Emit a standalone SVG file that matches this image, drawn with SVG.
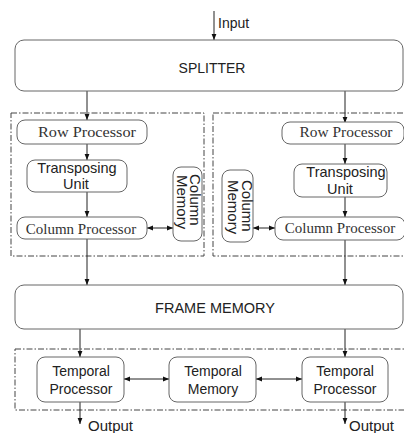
<svg xmlns="http://www.w3.org/2000/svg" width="404" height="433" viewBox="0 0 404 433">
<style>
.box{fill:#fff;stroke:#666;stroke-width:1}
.dash{fill:none;stroke:#444;stroke-width:1;stroke-dasharray:6,2,1.5,2}
.ln{fill:none;stroke:#222;stroke-width:1}
.sans{font-family:"Liberation Sans",Arial,sans-serif;fill:#222}
.serif{font-family:"Liberation Serif","Times New Roman",serif;fill:#333}
</style>
<defs>
<marker id="ah" viewBox="0 0 10 10" refX="10" refY="5" markerWidth="6" markerHeight="6" orient="auto-start-reverse" markerUnits="userSpaceOnUse">
<path d="M0,1 L10,5 L0,9 Z" fill="#111"/>
</marker>
</defs>
<rect width="404" height="433" fill="#fff"/>
<g id="containers">
<rect class="dash" x="11" y="113" width="193" height="143"/>
<rect class="dash" x="213" y="113" width="200" height="143"/>
<rect class="dash" x="15" y="349" width="400" height="61"/>
</g>
<g id="connectors">
<line class="ln" x1="214" y1="11" x2="214" y2="40" marker-end="url(#ah)"/>
<line class="ln" x1="87" y1="91" x2="87" y2="120" marker-end="url(#ah)"/>
<line class="ln" x1="345" y1="91" x2="345" y2="123" marker-end="url(#ah)"/>
<line class="ln" x1="87" y1="144" x2="87" y2="160" marker-end="url(#ah)"/>
<line class="ln" x1="87" y1="192" x2="87" y2="217" marker-end="url(#ah)"/>
<line class="ln" x1="345" y1="143" x2="345" y2="164" marker-end="url(#ah)"/>
<line class="ln" x1="345" y1="197" x2="345" y2="217" marker-end="url(#ah)"/>
<line class="ln" x1="147" y1="228" x2="173" y2="228" marker-start="url(#ah)" marker-end="url(#ah)"/>
<line class="ln" x1="253" y1="228" x2="275" y2="228" marker-start="url(#ah)" marker-end="url(#ah)"/>
<line class="ln" x1="87" y1="239" x2="87" y2="285" marker-end="url(#ah)"/>
<line class="ln" x1="345" y1="240" x2="345" y2="285" marker-end="url(#ah)"/>
<line class="ln" x1="80" y1="329" x2="80" y2="357" marker-end="url(#ah)"/>
<line class="ln" x1="345" y1="329" x2="345" y2="357" marker-end="url(#ah)"/>
<line class="ln" x1="124" y1="379" x2="169" y2="379" marker-start="url(#ah)" marker-end="url(#ah)"/>
<line class="ln" x1="256" y1="379" x2="302" y2="379" marker-start="url(#ah)" marker-end="url(#ah)"/>
<line class="ln" x1="80" y1="402" x2="80" y2="424" marker-end="url(#ah)"/>
<line class="ln" x1="345" y1="402" x2="345" y2="424" marker-end="url(#ah)"/>
</g>
<g id="input-label"><text class="sans" x="218" y="28" font-size="14">Input</text></g>
<g id="splitter">
<rect class="box" x="15" y="40" width="388" height="51" rx="9"/>
<text class="sans" x="212" y="73" font-size="14" text-anchor="middle">SPLITTER</text>
</g>
<g id="row-processor-1">
<rect class="box" x="17" y="120" width="130" height="24" rx="8"/>
<text class="serif" x="87" y="137" font-size="15" text-anchor="middle" textLength="98" lengthAdjust="spacingAndGlyphs">Row Processor</text>
</g>
<g id="transposing-unit-1">
<rect class="box" x="27" y="160" width="100" height="32" rx="8"/>
<text class="sans" x="77" y="173" font-size="14.5" text-anchor="middle">Transposing</text>
<text class="sans" x="76" y="189" font-size="14.5" text-anchor="middle">Unit</text>
</g>
<g id="column-processor-1">
<rect class="box" x="17" y="217" width="130" height="22" rx="8"/>
<text class="serif" x="81" y="234" font-size="15" text-anchor="middle">Column Processor</text>
</g>
<g id="column-memory-1">
<rect class="box" x="173" y="167" width="29" height="74" rx="8"/>
<text class="sans" font-size="15" transform="translate(190,174) rotate(90)">Column</text>
<text class="sans" font-size="15" transform="translate(177,175) rotate(90)">Memory</text>
</g>
<g id="row-processor-2">
<rect class="box" x="282" y="122" width="122" height="22" rx="8"/>
<text class="serif" x="346" y="137" font-size="15" text-anchor="middle" textLength="93" lengthAdjust="spacingAndGlyphs">Row Processor</text>
</g>
<g id="transposing-unit-2">
<rect class="box" x="294" y="164" width="93" height="33" rx="8"/>
<text class="sans" x="346" y="177" font-size="14.5" text-anchor="middle">Transposing</text>
<text class="sans" x="340" y="194" font-size="14.5" text-anchor="middle">Unit</text>
</g>
<g id="column-processor-2">
<rect class="box" x="275" y="217" width="130" height="23" rx="8"/>
<text class="serif" x="340" y="233" font-size="15" text-anchor="middle">Column Processor</text>
</g>
<g id="column-memory-2">
<rect class="box" x="222" y="170" width="31" height="72" rx="8"/>
<text class="sans" font-size="15" transform="translate(242,180) rotate(90)">Column</text>
<text class="sans" font-size="15" transform="translate(228,180) rotate(90)">Memory</text>
</g>
<g id="frame-memory">
<rect class="box" x="15" y="285" width="388" height="44" rx="9"/>
<text class="sans" x="215" y="313" font-size="14.5" text-anchor="middle">FRAME MEMORY</text>
</g>
<g id="temporal-processor-1">
<rect class="box" x="37" y="357" width="87" height="45" rx="8"/>
<text class="sans" x="81" y="376" font-size="14" text-anchor="middle">Temporal</text>
<text class="sans" x="81" y="394" font-size="14" text-anchor="middle">Processor</text>
</g>
<g id="temporal-memory">
<rect class="box" x="169" y="357" width="87" height="45" rx="8"/>
<text class="sans" x="213" y="376" font-size="14" text-anchor="middle">Temporal</text>
<text class="sans" x="213" y="394" font-size="14" text-anchor="middle">Memory</text>
</g>
<g id="temporal-processor-2">
<rect class="box" x="302" y="357" width="86" height="45" rx="8"/>
<text class="sans" x="345" y="376" font-size="14" text-anchor="middle">Temporal</text>
<text class="sans" x="345" y="394" font-size="14" text-anchor="middle">Processor</text>
</g>
<g id="output-labels">
<text class="sans" x="88" y="431" font-size="15">Output</text>
<text class="sans" x="349" y="431" font-size="15">Output</text>
</g>
</svg>
